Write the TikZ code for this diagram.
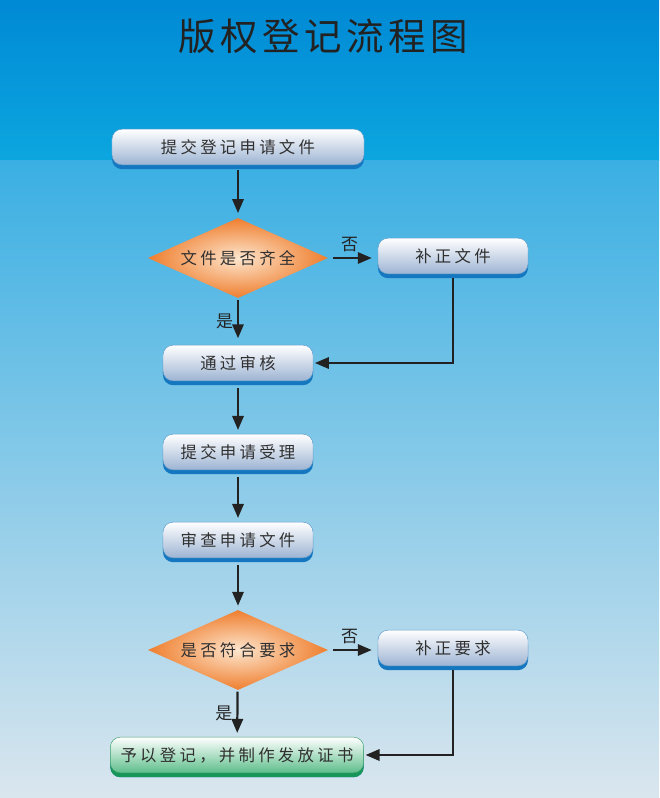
\documentclass[tikz,border=0pt]{standalone}
\usepackage{fontspec}
\setmainfont{Noto Sans CJK SC}[LetterSpace=20]
\newfontfamily\titlefont{Noto Sans CJK SC}[LetterSpace=12]
\usetikzlibrary{shapes.geometric,arrows.meta,shadows}

\definecolor{bgtop}{HTML}{0089D5}
\definecolor{bgmid}{HTML}{0CA6DF}
\definecolor{bgseam}{HTML}{3AAFE3}
\definecolor{bgbot}{HTML}{DAE6EE}
\definecolor{boxlow}{HTML}{9DB4D3}
\definecolor{boxline}{HTML}{5E9CCB}
\definecolor{boxshade}{HTML}{1577BF}
\definecolor{grnlow}{HTML}{5DBE8A}
\definecolor{grnline}{HTML}{3C9E6C}
\definecolor{grnshade}{HTML}{17965A}
\definecolor{dmdin}{HTML}{FDE6CE}
\definecolor{dmdout}{HTML}{EF7E2E}
\definecolor{txt}{HTML}{303030}
\definecolor{ink}{HTML}{222222}

\begin{document}
\begin{tikzpicture}[x=0.03cm,y=-0.03cm,
  stepbox/.style={draw=boxline,line width=0.4pt,rounded corners=0.3cm,
    top color=white,bottom color=boxlow,text=txt,
    minimum width=4.5cm,minimum height=1.07cm,inner sep=0pt,
    font=\fontsize{14pt}{16pt}\selectfont,
    drop shadow={shadow xshift=0cm,shadow yshift=-0.13cm,fill=boxshade,opacity=1}},
  widebox/.style={stepbox,minimum width=7.56cm},
  endbox/.style={stepbox,minimum width=7.6cm,draw=grnline,bottom color=grnlow,
    drop shadow={shadow xshift=0cm,shadow yshift=-0.13cm,fill=grnshade,opacity=1}},
  check/.style={diamond,shape aspect=2.25,minimum width=5.4cm,minimum height=2.4cm,
    inner sep=0pt,shading=radial,inner color=dmdin,outer color=dmdout,text=txt,
    font=\fontsize{14pt}{16pt}\selectfont},
  flow/.style={draw=ink,line width=1.9pt,-{Triangle[length=0.42cm,width=0.34cm]}},
  tag/.style={text=ink,font=\fontsize{14.5pt}{16pt}\selectfont,inner sep=1pt}]

\useasboundingbox (0,0) rectangle (659,798);
% background
\fill[top color=bgtop,bottom color=bgmid] (0,0) rectangle (659,160);
\fill[top color=bgseam,bottom color=bgbot] (0,160) rectangle (659,798);

\node[text=ink,font=\titlefont\fontsize{32pt}{36pt}\selectfont] (title) at (323,36) {版权登记流程图};

% main column
\node[widebox] (submit) at (238,147) {提交登记申请文件};
\node[check] (complete) at (238,258) {文件是否齐全};
\node[stepbox] (fixdoc) at (453,256) {补正文件};
\node[stepbox] (pass) at (238,363) {通过审核};
\node[stepbox] (accept) at (238,452) {提交申请受理};
\node[stepbox] (review) at (238,540) {审查申请文件};
\node[check] (meets) at (238,650) {是否符合要求};
\node[stepbox] (fixreq) at (453,648) {补正要求};
\node[endbox] (grant) at (237,755) {予以登记，并制作发放证书};

% arrows
\draw[flow,shorten <=0.15cm,shorten >=0.14cm] (submit) -- (complete);
\draw[flow,shorten <=0.15cm,shorten >=0.18cm] (complete.east) -- node[tag,above,yshift=0.12cm,xshift=-0.1cm] {否} (fixdoc.west|-complete.east);
\draw[flow,shorten <=0.05cm,shorten >=0.2cm] (complete) -- node[tag,left,xshift=-0.08cm] {是} (pass);
\draw[flow,shorten >=0.05cm] (fixdoc.south) ++(0,4) |- (pass.east);
\draw[flow,shorten <=0.2cm,shorten >=0.12cm] (pass) -- (accept);
\draw[flow,shorten <=0.2cm,shorten >=0.12cm] (accept) -- (review);
\draw[flow,shorten <=0.2cm,shorten >=0.12cm] (review) -- (meets);
\draw[flow,shorten <=0.15cm,shorten >=0.18cm] (meets.east) -- node[tag,above,yshift=0.12cm,xshift=-0.1cm] {否} (fixreq.west|-meets.east);
\draw[flow,shorten <=0.05cm,shorten >=0.12cm] (meets) -- node[tag,left,xshift=-0.08cm] {是} (grant);
\draw[flow,shorten >=0.05cm] (fixreq.south) ++(0,4) |- (grant.east);
\end{tikzpicture}
\end{document}
